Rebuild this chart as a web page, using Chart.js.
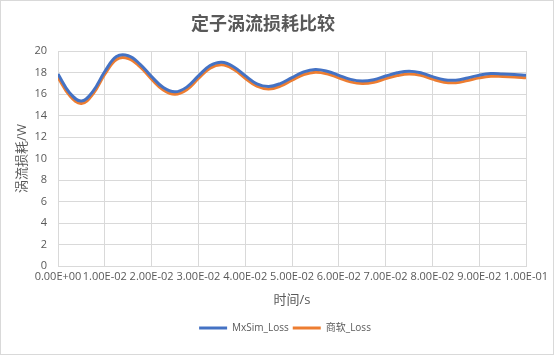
<!DOCTYPE html>
<html>
<head>
<meta charset="utf-8">
<script src="https://cdn.jsdelivr.net/npm/chart.js@4"></script>
<style>
html,body{margin:0;padding:0;background:#fff;}
#wrap{width:555px;height:356px;position:relative;}
</style>
</head>
<body>
<div id="wrap"><canvas id="c" width="555" height="356"></canvas></div>
<script>
const times = [0,0.0025,0.005,0.0075,0.01,0.0125,0.015,0.0175,0.02,0.0225,0.025,0.0275,0.03,0.0325,0.035,0.0375,0.04,0.0425,0.045,0.0475,0.05,0.0525,0.055,0.0575,0.06,0.0625,0.065,0.0675,0.07,0.0725,0.075,0.0775,0.08,0.0825,0.085,0.0875,0.09,0.0925,0.095,0.0975,0.1];
const mxsimLoss = [17.85,16.1,15.35,16.27,18.09,19.48,19.56,18.79,17.62,16.6,16.2,16.64,17.68,18.65,18.96,18.54,17.71,16.95,16.7,16.97,17.53,18.06,18.28,18.12,17.74,17.36,17.2,17.33,17.67,17.97,18.12,17.98,17.62,17.33,17.29,17.49,17.75,17.9,17.87,17.82,17.75];
const shangruanLoss = [17.55,15.85,15.12,16.02,17.84,19.22,19.3,18.54,17.38,16.37,15.97,16.4,17.44,18.4,18.71,18.3,17.47,16.72,16.47,16.73,17.29,17.81,18.03,17.88,17.5,17.13,16.97,17.09,17.43,17.72,17.87,17.74,17.38,17.1,17.05,17.25,17.5,17.65,17.63,17.58,17.5];
const seriesNames = ['MxSim_Loss','商软_Loss'];
const xTicks = [0,0.01,0.02,0.03,0.04,0.05,0.06,0.07,0.08,0.09,0.1];
const yTicks = [0,2,4,6,8,10,12,14,16,18,20];

function fmtExp(v){
  if (Math.abs(v) < 1e-12) return '0.00E+00';
  let e = Math.floor(Math.log10(Math.abs(v)) + 1e-9);
  let m = v / Math.pow(10, e);
  if (Math.abs(m) >= 9.995) { m /= 10; e += 1; }
  const sign = e < 0 ? '-' : '+';
  const ae = Math.abs(e);
  return m.toFixed(2) + 'E' + sign + (ae < 10 ? '0' + ae : ae);
}

const borderPlugin = {
  id: 'outerBorder',
  afterLayout(chart){
    const l = chart.legend;
    if (l) { l.left += 22; l.right += 22; }
  },
  beforeDraw(chart){
    const ctx = chart.ctx;
    ctx.save();
    ctx.fillStyle = '#fff';
    ctx.fillRect(0,0,chart.width,chart.height);
    ctx.strokeStyle = '#d9d9d9';
    ctx.lineWidth = 1;
    ctx.strokeRect(0.5,0.5,553,354);
    ctx.restore();
  }
};

const fontFam = "'Open Sans','Noto Sans CJK SC',sans-serif";
new Chart(document.getElementById('c'), {
  type: 'line',
  data: {
    datasets: [
      { label: seriesNames[0], data: times.map((t,i)=>({x:t,y:mxsimLoss[i]})),
        borderColor: '#4472C4', backgroundColor: '#4472C4', borderWidth: 3, pointRadius: 0, pointStyle: 'line', tension: 0.4, fill: false },
      { label: seriesNames[1], data: times.map((t,i)=>({x:t,y:shangruanLoss[i]})),
        borderColor: '#ED7D31', backgroundColor: '#ED7D31', borderWidth: 3, pointRadius: 0, pointStyle: 'line', tension: 0.4, fill: false }
    ]
  },
  options: {
    responsive: false,
    animation: false,
    events: [],
    layout: { padding: { left: 0, right: 29, top: 0, bottom: 13 } },
    plugins: {
      title: { display: true, text: '定子涡流损耗比较', color: '#595959',
        font: { family: "'Noto Sans CJK SC',sans-serif", size: 18, weight: 'bold' },
        padding: { top: 12, bottom: 17.4 } },
      legend: { position: 'bottom',
        labels: { usePointStyle: true, pointStyle: 'line', pointStyleWidth: 28, boxHeight: 10,
          padding: 4, color: '#595959',
          font: { family: fontFam, size: 10 } } },
      tooltip: { enabled: false }
    },
    scales: {
      x: { type: 'linear', min: 0, max: 0.1,
        afterBuildTicks(scale){ scale.ticks = xTicks.map(v=>({value:v})); },
        afterFit(scale){ scale.height = 53; },
        grid: { color: '#d9d9d9', drawTicks: false },
        border: { color: '#d9d9d9' },
        ticks: { autoSkip: false, maxRotation: 0, padding: 4, color: '#595959',
          font: { family: fontFam, size: 11 }, callback: v => fmtExp(v) },
        title: { display: true, text: '时间/s', color: '#595959',
          font: { family: fontFam, size: 13 }, padding: { top: 0, bottom: 11 } } },
      y: { min: 0, max: 20,
        afterBuildTicks(scale){ scale.ticks = yTicks.map(v=>({value:v})); },
        afterFit(scale){ scale.width = 58; },
        grid: { color: '#d9d9d9', drawTicks: false },
        border: { display: false },
        ticks: { padding: 11, color: '#595959', font: { family: fontFam, size: 11 } },
        title: { display: true, text: '涡流损耗/W', color: '#595959',
          font: { family: fontFam, size: 13 }, padding: { top: 14, bottom: 0 } } }
    }
  },
  plugins: [borderPlugin]
});
</script>
</body>
</html>
